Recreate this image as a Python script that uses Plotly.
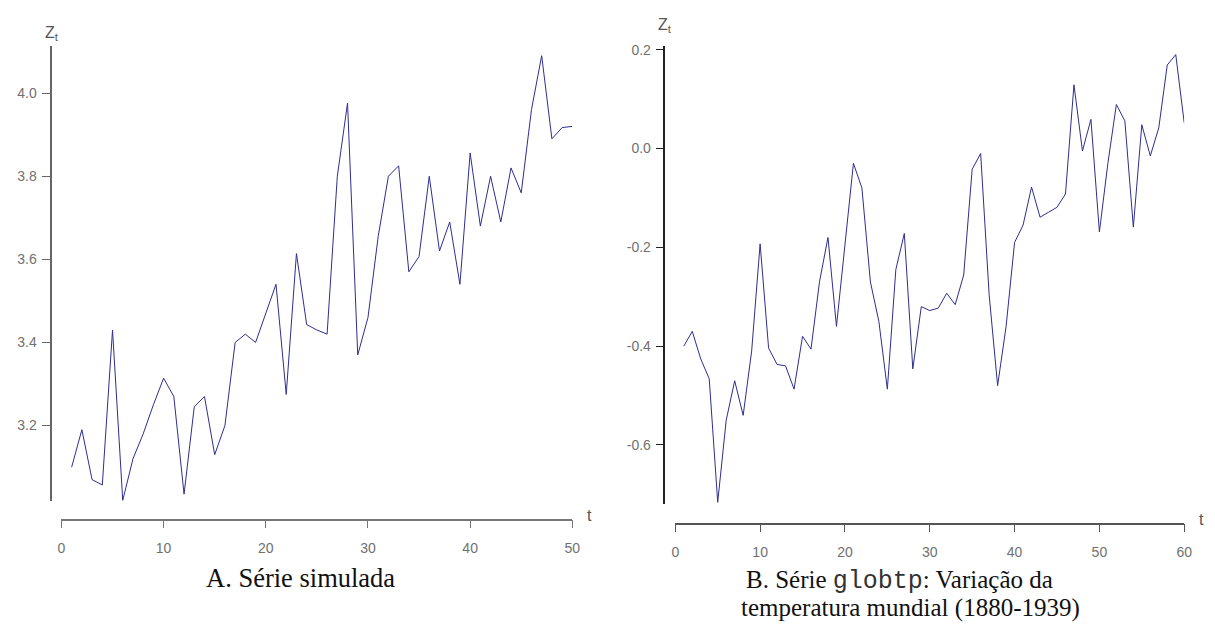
import plotly.graph_objects as go

# ---- Data ----
t_a = list(range(1, 51))
z_a = [3.10, 3.19, 3.07, 3.057, 3.43, 3.02, 3.12, 3.18, 3.25, 3.314,
       3.27, 3.035, 3.245, 3.27, 3.13, 3.20, 3.40, 3.42, 3.40, 3.47,
       3.54, 3.275, 3.614, 3.443, 3.43, 3.42, 3.80, 3.976, 3.37, 3.46,
       3.655, 3.80, 3.825, 3.57, 3.607, 3.80, 3.62, 3.69, 3.54, 3.856,
       3.68, 3.80, 3.69, 3.82, 3.76, 3.96, 4.09, 3.89, 3.917, 3.92]

t_b = list(range(1, 61))
z_b = [-0.40, -0.37, -0.426, -0.466, -0.716, -0.55, -0.47, -0.54, -0.41, -0.193,
       -0.404, -0.437, -0.44, -0.487, -0.38, -0.406, -0.27, -0.18, -0.36, -0.20,
       -0.03, -0.08, -0.27, -0.35, -0.487, -0.245, -0.172, -0.446, -0.32, -0.328,
       -0.323, -0.293, -0.316, -0.256, -0.042, -0.01, -0.296, -0.48, -0.36, -0.19,
       -0.155, -0.078, -0.139, -0.129, -0.119, -0.092, 0.129, -0.005, 0.059, -0.169,
       -0.03, 0.089, 0.056, -0.159, 0.048, -0.015, 0.042, 0.169, 0.19, 0.052]

xticks_a = [0, 10, 20, 30, 40, 50]
yticks_a = [3.2, 3.4, 3.6, 3.8, 4.0]
yticklabels_a = ["3.2", "3.4", "3.6", "3.8", "4.0"]
xticks_b = [0, 10, 20, 30, 40, 50, 60]
yticks_b = [-0.6, -0.4, -0.2, 0.0, 0.2]
yticklabels_b = ["-0.6", "-0.4", "-0.2", "0.0", "0.2"]

caption_a = "A. Série simulada"
caption_b1 = ("B. Série <span style=\"font-family:Liberation Mono;font-weight:normal;color:#333333\">"
              "globtp</span>: Variação da")
caption_b2 = "temperatura mundial (1880-1939)"

# ---- Layout geometry (pixels) ----
W, H = 1215, 624
def px(x):
    return x / W
def py(y):
    return 1 - y / H

line_color = "#2e2e8f"
tick_font = dict(family="Liberation Sans, Arial, sans-serif", size=14, color="#707070")

fig = go.Figure()
fig.add_trace(go.Scatter(x=t_a, y=z_a, mode="lines", xaxis="x", yaxis="y",
                         line=dict(color=line_color, width=1), showlegend=False,
                         hoverinfo="skip"))
fig.add_trace(go.Scatter(x=t_b, y=z_b, mode="lines", xaxis="x2", yaxis="y2",
                         line=dict(color=line_color, width=1), showlegend=False,
                         hoverinfo="skip"))

common_x = dict(showgrid=False, zeroline=False, showline=True, ticks="outside",
                ticklen=8, tickwidth=1, tickfont=tick_font, anchor="free",
                ticklabelstandoff=8, fixedrange=True)
common_y = dict(showgrid=False, zeroline=False, showline=True, ticks="outside",
                ticklen=8, tickwidth=1, tickfont=tick_font, anchor="free",
                ticklabelstandoff=2, fixedrange=True)

fig.update_layout(
    width=W, height=H,
    margin=dict(l=0, r=0, t=0, b=0),
    paper_bgcolor="white", plot_bgcolor="white",
    xaxis=dict(common_x, domain=[px(58), px(574)], range=[0, 50],
               tickvals=xticks_a, position=py(519),
               linecolor="#777777", tickcolor="#777777", linewidth=1.5),
    yaxis=dict(common_y, domain=[py(500), py(42)], range=[3.019, 4.114],
               tickvals=yticks_a, ticktext=yticklabels_a, position=px(47),
               linecolor="#666666", tickcolor="#666666", linewidth=2),
    xaxis2=dict(common_x, domain=[px(678), px(1192)], range=[0, 60],
                tickvals=xticks_b, position=py(523),
                linecolor="#555555", tickcolor="#555555", linewidth=1.5),
    yaxis2=dict(common_y, domain=[py(503), py(42)], range=[-0.719, 0.208],
                tickvals=yticks_b, ticktext=yticklabels_b, position=px(667),
                linecolor="#222222", tickcolor="#222222", linewidth=1.5),
)

label_font = dict(family="Liberation Sans, Arial, sans-serif", size=16, color="#555555")
serif_a = dict(family="Liberation Serif, Times New Roman, serif", size=26.5, color="#111111")
serif_b = dict(family="Liberation Serif, Times New Roman, serif", size=25, color="#111111")

ann = [
    dict(text="Z<sub>t</sub>", x=px(48), y=py(30), font=label_font),
    dict(text="Z<sub>t</sub>", x=px(668), y=py(22), font=label_font),
    dict(text="t", x=px(591), y=py(515), font=label_font),
    dict(text="t", x=px(1209), y=py(519), font=label_font),
    dict(text=caption_a, x=px(299), y=py(578), font=serif_a),
    dict(text=caption_b1, x=px(904), y=py(581), font=serif_b),
    dict(text=caption_b2, x=px(916), y=py(608), font=serif_b),
]
for a in ann:
    fig.add_annotation(xref="paper", yref="paper", showarrow=False,
                       xanchor="center", yanchor="middle", **a)

fig.write_html("out.html")
